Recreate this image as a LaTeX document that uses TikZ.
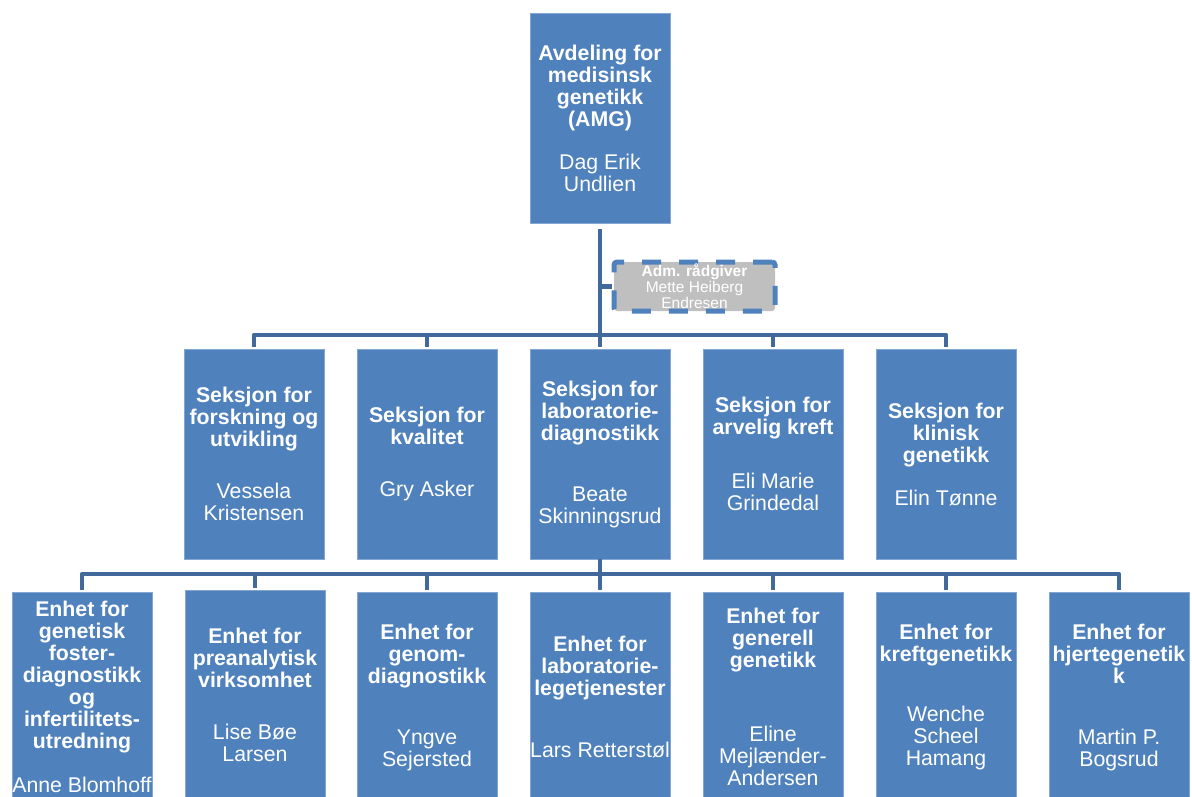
\documentclass[tikz,border=0pt]{standalone}
\usepackage{fontspec}
\setmainfont{Liberation Sans}
\definecolor{boxblue}{HTML}{4F81BD}
\definecolor{linkblue}{HTML}{41699C}
\definecolor{admgray}{HTML}{BFBFBF}
\begin{document}
\begin{tikzpicture}[x=1pt,y=-1pt,
  orgbox/.style={draw=boxblue!70!white,line width=0.8pt,fill=boxblue,text=white,
    minimum width=140pt,minimum height=210pt,inner sep=0pt,align=center,
    font=\fontsize{21.3}{22}\selectfont},
  admbox/.style={draw=boxblue,line width=5pt,dash pattern=on 19pt off 18pt,rounded corners=3pt,
    fill=admgray,text=white,minimum width=161pt,minimum height=49pt,inner sep=0pt,align=center,
    font=\fontsize{15.5}{16}\selectfont},
  conn/.style={draw=linkblue,line width=4.5pt,line join=round}]
\useasboundingbox (0,0) rectangle (1192,796);
% avdeling
\node[orgbox] (amg) at (600,118) {\textbf{Avdeling for}\\\textbf{medisinsk}\\\textbf{genetikk}\\\textbf{(AMG)}\\[21pt]Dag Erik\\Undlien};
\node[admbox] (adm) at (694.5,286.5) {\textbf{Adm. rådgiver}\\Mette Heiberg\\Endresen};
% seksjoner
\node[orgbox] (sek1) at (254,454) {\textbf{Seksjon for}\\\textbf{forskning og}\\\textbf{utvikling}\\[30pt]Vessela\\Kristensen};
\node[orgbox] (sek2) at (427,454) {\textbf{Seksjon for}\\\textbf{kvalitet}\\[30pt]Gry Asker};
\node[orgbox] (sek3) at (600,454) {\textbf{Seksjon for}\\\textbf{laboratorie-}\\\textbf{diagnostikk}\\[39pt]Beate\\Skinningsrud};
\node[orgbox] (sek4) at (773,454) {\textbf{Seksjon for}\\\textbf{arvelig kreft}\\[32pt]Eli Marie\\Grindedal};
\node[orgbox] (sek5) at (946,454) {\textbf{Seksjon for}\\\textbf{klinisk}\\\textbf{genetikk}\\[21pt]Elin Tønne};
% enheter
\node[orgbox] (enh1) at (82,697) {\textbf{Enhet for}\\\textbf{genetisk}\\\textbf{foster-}\\\textbf{diagnostikk}\\\textbf{og}\\\textbf{infertilitets-}\\\textbf{utredning}\\[22pt]Anne Blomhoff};
\node[orgbox] (enh2) at (255,695) {\textbf{Enhet for}\\\textbf{preanalytisk}\\\textbf{virksomhet}\\[30pt]Lise Bøe\\Larsen};
\node[orgbox] (enh3) at (427,697) {\textbf{Enhet for}\\\textbf{genom-}\\\textbf{diagnostikk}\\[39pt]Yngve\\Sejersted};
\node[orgbox] (enh4) at (600,697) {\textbf{Enhet for}\\\textbf{laboratorie-}\\\textbf{legetjenester}\\[40pt]Lars Retterstøl};
\node[orgbox] (enh5) at (773,697) {\textbf{Enhet for}\\\textbf{generell}\\\textbf{genetikk}\\[52pt]Eline\\Mejlænder-\\Andersen};
\node[orgbox] (enh6) at (946,697) {\textbf{Enhet for}\\\textbf{kreftgenetikk}\\[38pt]Wenche\\Scheel\\Hamang};
\node[orgbox] (enh7) at (1119,697) {\textbf{Enhet for}\\\textbf{hjertegenetik}\\\textbf{k}\\[39pt]Martin P.\\Bogsrud};
% linjer
\coordinate (sekbar) at (600,335);
\coordinate (admjoint) at (600,286.5);
\coordinate (enhbar) at (600,574);
\draw[conn] ([yshift=-6pt]amg.south) -- (sekbar);
\draw[conn] (admjoint) -- (adm.west);
\foreach \s in {sek1,sek2,sek3,sek4,sek5}
  \draw[conn] (sekbar) -| ([yshift=2pt]\s.north);
\draw[conn] (sek3.south) -- (enhbar);
\foreach \e in {enh1,enh2,enh3,enh4,enh5,enh6,enh7}
  \draw[conn] (enhbar) -| ([yshift=2pt]\e.north);
\end{tikzpicture}
\end{document}
